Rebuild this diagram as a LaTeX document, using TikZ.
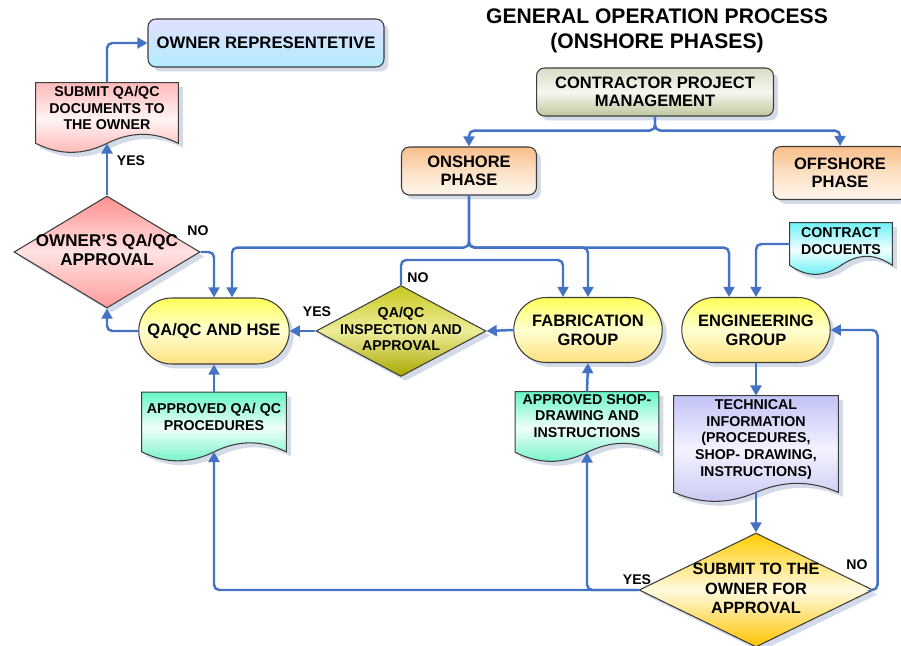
\documentclass[tikz,border=0pt]{standalone}
\usepackage{fontspec}
\setmainfont{Liberation Sans}
\usetikzlibrary{shapes.geometric,shapes.misc,shadows,arrows.meta,calc,backgrounds}

\definecolor{bordc}{HTML}{3C3C3C}
\definecolor{arrowc}{HTML}{4472C4}
\definecolor{shadowc}{HTML}{D3DBE9}

\newcommand{\boxfont}{\fontsize{9.4}{10.6}\selectfont\bfseries}
\newcommand{\docfont}{\fontsize{8.1}{9.4}\selectfont\bfseries}
\newcommand{\lblfont}{\fontsize{8}{9.4}\selectfont\bfseries}
% text of a diamond: no size of its own, the diamond keeps its given size
\newcommand{\dtxt}[1]{\makebox[0pt]{\raisebox{-0.25em}{\begin{tabular}{@{}c@{}}#1\end{tabular}}}}
% paper sheet with a wavy bottom, drawn round a named node
\newcommand{\docshape}[2]{%
  \path[docline,#2] (#1.north west) -- (#1.north east) -- (#1.south east)
    .. controls ($(#1.south east)!0.17!(#1.south west)+(0,-12)$) and ($(#1.south east)!0.33!(#1.south west)+(0,-12)$) .. ($(#1.south east)!0.5!(#1.south west)$)
    .. controls ($(#1.south east)!0.67!(#1.south west)+(0,12)$) and ($(#1.south east)!0.83!(#1.south west)+(0,12)$) .. (#1.south west) -- cycle;}

\tikzset{
  shad/.style={drop shadow={shadow xshift=0.09cm, shadow yshift=-0.09cm, fill=shadowc, opacity=1}},
  box/.style={rectangle, rounded corners=4.5pt, draw=bordc, line width=0.6pt, align=center, inner sep=1pt, font=\boxfont, shad},
  grpbox/.style={rounded rectangle, draw=bordc, line width=0.6pt, align=center, inner sep=1pt, font=\boxfont, shad,
    top color=yellow!65!white, bottom color=yellow!52!orange!50!white, middle color=yellow!18!white},
  decbox/.style={diamond, draw=bordc, line width=0.6pt, inner sep=0pt, text height=0pt, text depth=0pt, shad},
  doc/.style={rectangle, inner sep=0pt, align=center, font=\docfont, text depth=0.2cm},
  docline/.style={draw=bordc, line width=0.6pt, shad},
  flow/.style={draw=arrowc, line width=1.4pt, rounded corners=3pt, -{Triangle[length=5.8pt,width=6.2pt]}},
  lbl/.style={font=\lblfont},
  titletxt/.style={align=center, font=\fontsize{12}{14.2}\selectfont\bfseries}
}

\begin{document}
\begin{tikzpicture}[x=0.02cm, y=-0.02cm]
    \useasboundingbox (0,0) rectangle (901,645); % page size of the reference

    \node[titletxt] (title) at (657,31) {GENERAL OPERATION PROCESS\\(ONSHORE PHASES)};

    % boxes
    \node[box, top color=blue!12!white, bottom color=blue!25!cyan!30!white, font=\fontsize{9.5}{10.6}\selectfont\bfseries,
          minimum width=4.72cm, minimum height=0.96cm] (ownrep) at (266,43) {OWNER REPRESENTETIVE};
    \node[box, top color={rgb,255:red,215;green,220;blue,197}, bottom color={rgb,255:red,191;green,199;blue,158},
          middle color={rgb,255:red,246;green,247;blue,240}, minimum width=4.74cm, minimum height=0.96cm] (cpm) at (655,92) {CONTRACTOR PROJECT\\MANAGEMENT};
    \node[box, top color={rgb,255:red,248;green,190;blue,138}, bottom color={rgb,255:red,255;green,246;blue,238},
          middle color={rgb,255:red,252;green,224;blue,196}, minimum width=2.70cm, minimum height=0.96cm] (onshore) at (469,171) {ONSHORE\\PHASE};
    \node[box, top color={rgb,255:red,248;green,190;blue,138}, bottom color={rgb,255:red,255;green,246;blue,238},
          middle color={rgb,255:red,252;green,224;blue,196}, minimum width=2.68cm, minimum height=1.06cm] (offshore) at (840,173) {OFFSHORE\\PHASE};

    % the three groups
    \node[grpbox, minimum width=3.08cm, minimum height=1.32cm] (hse) at (214,331) {QA/QC AND HSE};
    \node[grpbox, minimum width=3.04cm, minimum height=1.30cm] (fab) at (588,330) {FABRICATION\\GROUP};
    \node[grpbox, minimum width=3.04cm, minimum height=1.30cm] (eng) at (756,330) {ENGINEERING\\GROUP};

    % decisions
    \node[decbox, top color={rgb,255:red,255;green,143;blue,143}, bottom color={rgb,255:red,255;green,155;blue,155},
          middle color={rgb,255:red,255;green,226;blue,226}, minimum width=3.72cm, minimum height=2.24cm,
          font=\fontsize{9.7}{11}\selectfont\bfseries] (ownapp) at (107,252) {\dtxt{OWNER'S QA/QC\\APPROVAL}};
    \node[decbox, top color={rgb,255:red,200;green,200;blue,30}, bottom color={rgb,255:red,168;green,168;blue,0},
          middle color={rgb,255:red,237;green,237;blue,154}, minimum width=3.40cm, minimum height=1.82cm,
          font=\docfont] (insp) at (401,331) {\dtxt{QA/QC\\INSPECTION AND\\APPROVAL}};
    \node[decbox, top color={rgb,255:red,255;green,204;blue,0}, bottom color={rgb,255:red,255;green,196;blue,0},
          middle color={rgb,255:red,255;green,250;blue,224}, minimum width=4.68cm, minimum height=2.28cm,
          font=\fontsize{9.3}{11.3}\selectfont\bfseries] (subown) at (756,590) {\dtxt{SUBMIT TO THE\\OWNER FOR\\APPROVAL}};

    % documents
    \node[doc, minimum width=2.84cm, minimum height=1.20cm] (subdoc) at (107,113) {SUBMIT QA/QC\\DOCUMENTS TO\\THE OWNER};
    \node[doc, minimum width=2.04cm, minimum height=0.84cm, text depth=0.12cm] (contract) at (841,244) {CONTRACT\\DOCUENTS};
    \node[doc, minimum width=2.88cm, minimum height=1.18cm] (appqa) at (214,422) {APPROVED QA/ QC\\PROCEDURES};
    \node[doc, minimum width=2.86cm, minimum height=1.20cm, text depth=0.24cm] (appshop) at (587,422) {APPROVED SHOP-\\DRAWING AND\\INSTRUCTIONS};
    \node[doc, minimum width=3.28cm, minimum height=1.92cm, text depth=0.24cm] (tech) at (756,444) {TECHNICAL\\INFORMATION\\(PROCEDURES,\\SHOP- DRAWING,\\INSTRUCTIONS)};

    \begin{scope}[on background layer]
        \docshape{subdoc}{top color={rgb,255:red,255;green,186;blue,186}, bottom color={rgb,255:red,255;green,181;blue,181}, middle color={rgb,255:red,255;green,244;blue,244}}
        \docshape{contract}{top color={rgb,255:red,110;green,242;blue,247}, bottom color={rgb,255:red,94;green,239;blue,247}, middle color={rgb,255:red,242;green,255;blue,255}}
        \docshape{appqa}{top color={rgb,255:red,102;green,245;blue,200}, bottom color={rgb,255:red,110;green,242;blue,200}, middle color={rgb,255:red,239;green,255;blue,249}}
        \docshape{appshop}{top color={rgb,255:red,102;green,245;blue,200}, bottom color={rgb,255:red,110;green,242;blue,200}, middle color={rgb,255:red,239;green,255;blue,249}}
        \docshape{tech}{top color={rgb,255:red,195;green,195;blue,247}, bottom color={rgb,255:red,198;green,198;blue,242}, middle color={rgb,255:red,243;green,243;blue,255}}
    \end{scope}

    % connectors
    \draw[flow] (cpm.south) -- ++(0,14) -| (onshore.north);
    \draw[flow] (cpm.south) -- ++(0,14) -| (offshore.north);

    \coordinate (onj) at ($(onshore.south)+(0,52)$); % where the onshore line splits
    \draw[flow] (onshore.south) -- (onj) -| ([xshift=0.36cm]hse.north);
    \draw[flow] (onshore.south) -- (onj) -| (fab.north);
    \draw[flow] (onshore.south) -- (onj) -| ([xshift=-0.54cm]eng.north);
    \draw[flow] (contract.west) -| (eng.north);

    \draw[flow] (fab.west) -- (insp.east);
    \draw[flow] (insp.west) -- (hse.east);
    \draw[flow] (insp.north) -- ++(0,-25) -| ([xshift=-0.5cm]fab.north);
    \draw[flow] (hse.west) -| (ownapp.south);
    \draw[flow] (ownapp.east) -| (hse.north);
    \draw[flow] (ownapp.north) -- (subdoc.south);
    \draw[flow] (subdoc.north) |- (ownrep.west);

    \draw[flow] (eng.south) -- (tech.north);
    \draw[flow] (tech.south) -- (subown.north);
    \draw[flow] (subown.west) -| (appqa.south);
    \draw[flow] (subown.west) -| (appshop.south);
    \draw[flow] (subown.east) -- ++(4,0) |- (eng.east);
    \draw[flow] (appqa.north) -- (hse.south);
    \draw[flow] (appshop.north) -- (fab.south);

    % yes / no labels
    \node[lbl] (yesown) at (131,161) {YES};
    \node[lbl] (noown) at (198,231) {NO};
    \node[lbl] (yesinsp) at (317,312) {YES};
    \node[lbl] (noinsp) at (418,278) {NO};
    \node[lbl] (yessub) at (637,580) {YES};
    \node[lbl] (nosub) at (857,565) {NO};
\end{tikzpicture}
\end{document}
